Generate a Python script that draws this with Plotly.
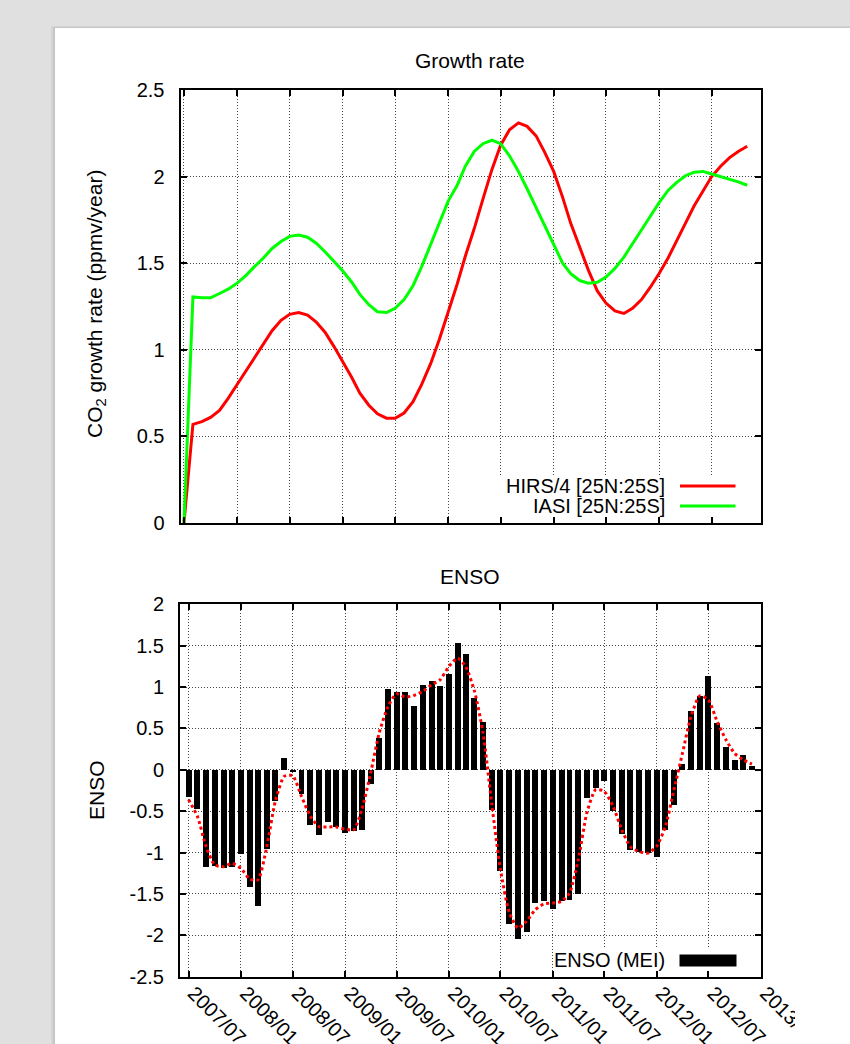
import plotly.graph_objects as go
import pandas as pd

W, H = 850, 1044
FONT = "Liberation Sans, Arial, Helvetica, sans-serif"


def px(x):
    return x / W


def py(y):
    return 1 - y / H


# ---------------- data ----------------
growth_months = pd.date_range("2007-07-01", periods=65, freq="MS")
hirs = [0.0, 0.57, 0.585, 0.61, 0.65, 0.72, 0.80, 0.88, 0.96, 1.04, 1.11, 1.17, 1.205,
        1.215, 1.20, 1.16, 1.10, 1.02, 0.93, 0.84, 0.75, 0.68, 0.63, 0.605, 0.605, 0.635,
        0.70, 0.80, 0.92, 1.06, 1.22, 1.38, 1.54, 1.70, 1.87, 2.04, 2.18, 2.27, 2.31, 2.29,
        2.235, 2.14, 2.03, 1.88, 1.73, 1.59, 1.46, 1.34, 1.27, 1.225, 1.21, 1.24, 1.29,
        1.36, 1.44, 1.53, 1.63, 1.73, 1.83, 1.92, 2.00, 2.06, 2.11, 2.145, 2.175]
iasi = [0.0, 1.305, 1.30, 1.30, 1.325, 1.35, 1.385, 1.43, 1.48, 1.53, 1.585, 1.625, 1.655,
        1.663, 1.65, 1.615, 1.565, 1.51, 1.455, 1.39, 1.32, 1.26, 1.22, 1.215, 1.24, 1.29,
        1.37, 1.48, 1.61, 1.74, 1.86, 1.95, 2.06, 2.145, 2.19, 2.21, 2.19, 2.12, 2.03, 1.93,
        1.82, 1.71, 1.60, 1.50, 1.44, 1.40, 1.385, 1.39, 1.42, 1.47, 1.535, 1.615, 1.695,
        1.77, 1.85, 1.92, 1.965, 2.005, 2.025, 2.03, 2.015, 2.00, 1.985, 1.97, 1.95]

enso_months = pd.date_range("2007-07-01", periods=66, freq="MS")
enso_mei = [-0.334, -0.48, -1.18, -1.16, -1.19, -1.18, -1.025, -1.42, -1.65, -0.965, -0.375,
            0.137, -0.032, -0.30, -0.665, -0.795, -0.636, -0.70, -0.765, -0.74, -0.733, -0.173,
            0.375, 0.967, 0.938, 0.938, 0.773, 1.023, 1.075, 1.015, 1.16, 1.526, 1.393, 0.87,
            0.58, -0.491, -1.228, -1.861, -2.042, -1.961, -1.619, -1.591, -1.691, -1.583,
            -1.571, -1.502, -0.342, -0.221, -0.133, -0.503, -0.785, -0.975, -0.995, -1.007,
            -1.059, -0.725, -0.431, 0.068, 0.713, 0.894, 1.124, 0.564, 0.278, 0.113, 0.177, 0.048]
enso_smooth = [-0.36, -0.56, -0.93, -1.15, -1.17, -1.13, -1.19, -1.32, -1.33, -0.93, -0.38,
               -0.08, -0.07, -0.32, -0.56, -0.685, -0.69, -0.69, -0.717, -0.725, -0.48, -0.04,
               0.443, 0.765, 0.918, 0.878, 0.90, 0.946, 1.027, 1.087, 1.248, 1.349, 1.248, 0.95,
               0.45, -0.42, -1.2, -1.72, -1.913, -1.83, -1.69, -1.62, -1.61, -1.59, -1.49,
               -1.087, -0.52, -0.24, -0.26, -0.44, -0.725, -0.93, -0.987, -1.007, -0.926,
               -0.685, -0.26, 0.20, 0.644, 0.894, 0.846, 0.584, 0.362, 0.20, 0.12, 0.07]

top_ticks = pd.date_range("2007-07-01", "2012-07-01", freq="6MS")
bottom_ticks = pd.date_range("2007-07-01", "2013-01-01", freq="6MS")
bottom_ticktext = [d.strftime("%Y/%m") for d in bottom_ticks]
growth_yticks = [0, 0.5, 1, 1.5, 2, 2.5]
growth_ytext = ["0", "0.5", "1", "1.5", "2", "2.5"]
enso_yticks = [-2.5, -2, -1.5, -1, -0.5, 0, 0.5, 1, 1.5, 2]
enso_ytext = ["-2.5", "-2", "-1.5", "-1", "-0.5", "0", "0.5", "1", "1.5", "2"]

TOP_XRANGE = (pd.Timestamp("2007-06-19"), pd.Timestamp("2012-12-17"))
BOT_XRANGE = (pd.Timestamp("2007-06-01"), pd.Timestamp("2013-01-01"))

# pixel geometry of the two plot frames
TOP_L, TOP_R, TOP_T, TOP_B = 180.5, 760.5, 90, 523
BOT_L, BOT_R, BOT_T, BOT_B = 180, 760.7, 604.3, 976.7


def xdate(x, rng, left, right):
    t0, t1 = rng
    return t0 + (t1 - t0) * ((x - left) / (right - left))


def yval(y, lo, hi, top, bottom):
    return lo + (hi - lo) * (bottom - y) / (bottom - top)


# ---------------- figure ----------------
fig = go.Figure()
fig.add_trace(go.Scatter(x=growth_months, y=hirs, mode="lines", name="HIRS/4 [25N:25S]",
                         line=dict(color="#ff0000", width=3), xaxis="x", yaxis="y"))
fig.add_trace(go.Scatter(x=growth_months, y=iasi, mode="lines", name="IASI [25N:25S]",
                         line=dict(color="#00ff00", width=3), xaxis="x", yaxis="y"))
fig.add_trace(go.Bar(x=enso_months, y=enso_mei, name="ENSO (MEI)", width=21 * 86400000,
                     marker=dict(color="black", line=dict(width=0)), xaxis="x2", yaxis="y2"))
fig.add_trace(go.Scatter(x=enso_months, y=enso_smooth, mode="lines", name="ENSO smooth",
                         line=dict(color="#ff0000", width=3, dash="dot", shape="spline",
                                   smoothing=0.6),
                         xaxis="x2", yaxis="y2"))

axis_common = dict(showline=True, linecolor="black", linewidth=2, mirror="allticks",
                   ticks="inside", ticklen=6, tickwidth=1.5, tickcolor="black",
                   showgrid=True, gridcolor="#444444", gridwidth=1, griddash="1px,2px",
                   zeroline=False, automargin=False,
                   tickfont=dict(family=FONT, size=20, color="black"))

fig.update_layout(
    width=W, height=H,
    margin=dict(l=0, r=0, t=0, b=0),
    paper_bgcolor="#e0e0e0",
    plot_bgcolor="white",
    showlegend=False,
    bargap=0,
    font=dict(family=FONT, size=20, color="black"),
    xaxis=dict(axis_common, domain=[px(TOP_L), px(TOP_R)], anchor="y",
               range=[str(TOP_XRANGE[0]), str(TOP_XRANGE[1])], tickvals=top_ticks,
               showticklabels=False),
    yaxis=dict(axis_common, domain=[py(TOP_B), py(TOP_T)], anchor="x", range=[0, 2.5],
               tickvals=growth_yticks, ticktext=growth_ytext, ticklabelstandoff=10),
    xaxis2=dict(axis_common, domain=[px(BOT_L), px(BOT_R)], anchor="y2",
                range=[str(BOT_XRANGE[0]), str(BOT_XRANGE[1])], tickvals=bottom_ticks,
                ticktext=bottom_ticktext, tickangle=45, ticklabelstandoff=-5,
                ticklabelshift=5),
    yaxis2=dict(axis_common, domain=[py(BOT_B), py(BOT_T)], anchor="x2", range=[-2.5, 2],
                tickvals=enso_yticks, ticktext=enso_ytext, ticklabelstandoff=10),
)

shapes = [
    # page card shadow and card
    dict(type="rect", xref="paper", yref="paper", x0=px(51), x1=1.1, y0=-0.1, y1=py(26),
         fillcolor="#d4d4d4", line=dict(width=0), layer="below"),
    dict(type="rect", xref="paper", yref="paper", x0=px(53), x1=1.1, y0=-0.1, y1=py(27),
         fillcolor="#c6c6c6", line=dict(width=0), layer="below"),
    dict(type="rect", xref="paper", yref="paper", x0=px(55), x1=1.1, y0=-0.1, y1=py(28),
         fillcolor="white", line=dict(width=0), layer="below"),
    # legend backgrounds (hide the grid, keep ticks)
    dict(type="rect", xref="x", yref="y",
         x0=xdate(470, TOP_XRANGE, TOP_L, TOP_R), x1=xdate(758, TOP_XRANGE, TOP_L, TOP_R),
         y0=yval(521.5, 0, 2.5, TOP_T, TOP_B), y1=yval(476, 0, 2.5, TOP_T, TOP_B),
         fillcolor="white", line=dict(width=0), layer="between"),
    dict(type="rect", xref="x2", yref="y2",
         x0=xdate(553, BOT_XRANGE, BOT_L, BOT_R), x1=xdate(758.5, BOT_XRANGE, BOT_L, BOT_R),
         y0=yval(975.5, -2.5, 2, BOT_T, BOT_B), y1=yval(947, -2.5, 2, BOT_T, BOT_B),
         fillcolor="white", line=dict(width=0), layer="between"),
    # legend samples
    dict(type="line", xref="paper", yref="paper", x0=px(680), x1=px(735.5), y0=py(486),
         y1=py(486), line=dict(color="#ff0000", width=3)),
    dict(type="line", xref="paper", yref="paper", x0=px(680), x1=px(735.5), y0=py(506),
         y1=py(506), line=dict(color="#00ff00", width=3)),
    dict(type="rect", xref="paper", yref="paper", x0=px(679.5), x1=px(736.5), y0=py(966.5),
         y1=py(954.5), fillcolor="black", line=dict(width=0)),
    # image edge clipping the last date label
    dict(type="rect", xref="paper", yref="paper", x0=px(795), x1=1.1, y0=-0.1, y1=py(979),
         fillcolor="white", line=dict(width=0), layer="above"),
]
fig.update_layout(shapes=shapes)

ann = [
    dict(text="Growth rate", x=px(470), y=py(60), size=21),
    dict(text="ENSO", x=px(470), y=py(576), size=21),
    dict(text="CO<sub>2</sub> growth rate (ppmv/year)", x=px(96), y=py(304), textangle=-90,
         size=21),
    dict(text="ENSO", x=px(96), y=py(790), textangle=-90, size=21),
    dict(text="HIRS/4 [25N:25S]", x=px(667), y=py(486), xanchor="right", size=20),
    dict(text="IASI [25N:25S]", x=px(667), y=py(506), xanchor="right", size=20),
    dict(text="ENSO (MEI)", x=px(667), y=py(960), xanchor="right", size=20),
]
for a in ann:
    size = a.pop("size")
    base = dict(xref="paper", yref="paper", showarrow=False, xanchor="center",
                yanchor="middle", font=dict(family=FONT, size=size, color="black"))
    base.update(a)
    fig.add_annotation(**base)

fig.write_html("out.html", config={"displayModeBar": False},
               post_script="document.body.style.margin='0px';")
